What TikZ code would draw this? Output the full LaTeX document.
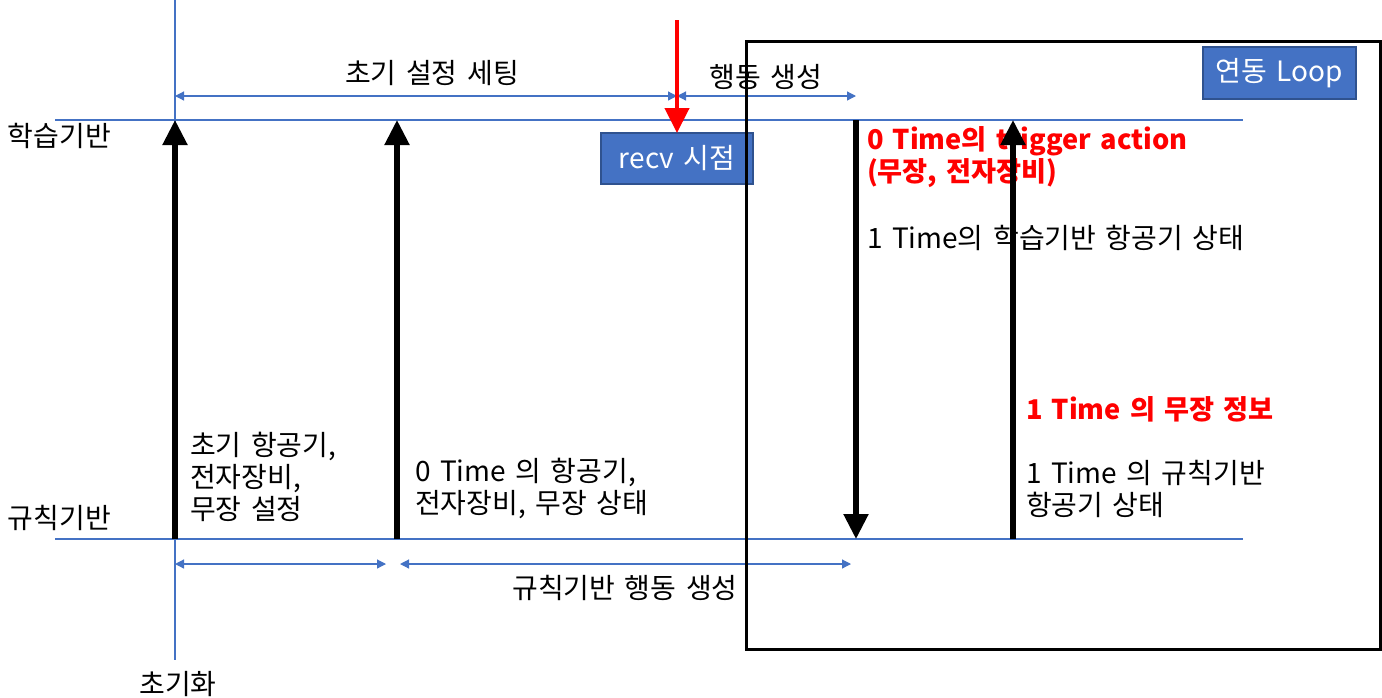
\documentclass[tikz,border=0pt]{standalone}
\usepackage{fontspec}
\setmainfont{Noto Sans CJK KR}
\usetikzlibrary{arrows.meta}
\definecolor{lineblue}{HTML}{4472C4}
\definecolor{boxedge}{HTML}{2F528F}
\definecolor{myred}{HTML}{FF0000}
\newcommand\mainfnt{\fontsize{14}{16}\selectfont\spaceskip 0.34em plus 0.1em\relax}
\newcommand\redfnt{\fontsize{13.6}{16}\selectfont\bfseries\spaceskip 0.34em plus 0.1em\relax}
\begin{document}
\begin{tikzpicture}[x=0.5pt,y=-0.5pt,
  every node/.style={inner sep=0pt,outer sep=0pt,font={\mainfnt}},
  guide/.style={draw=lineblue,line width=0.6pt},
  dimline/.style={draw=lineblue,line width=0.6pt,{Triangle[width=4.5pt,length=4.5pt]}-{Triangle[width=4.5pt,length=4.5pt]}},
  bigarrow/.style={draw=black,line width=2.6pt,-{Triangle[width=12pt,length=12.5pt]}},
  redarrow/.style={draw=myred,line width=2.2pt,-{Triangle[width=12pt,length=12.5pt]}},
  bluebox/.style={fill=lineblue,draw=boxedge,line width=1pt,text=white,align=center},
  lbl/.style={anchor=west,align=left},
  redlbl/.style={anchor=west,align=left,text=myred,font={\redfnt}}
]
\useasboundingbox (0,0) rectangle (1382,697);
% guide lines
\coordinate (Ltop) at (55,120); \coordinate (Rtop) at (1243,120);
\coordinate (Lbot) at (55,539); \coordinate (Rbot) at (1243,539);
\coordinate (initTop) at (175,0); \coordinate (initBot) at (175,660);
\draw[guide] (Ltop) -- (Rtop);
\draw[guide] (Lbot) -- (Rbot);
\draw[guide] (initTop) -- (initBot);
% dimension arrows
\coordinate (d1a) at (175,96); \coordinate (d1b) at (677,96); \coordinate (d1c) at (856,96);
\draw[dimline] (d1a) -- (d1b);
\draw[dimline] (d1b) -- (d1c);
\coordinate (d2a) at (175,564); \coordinate (d2b) at (386,564);
\coordinate (d2c) at (400,564); \coordinate (d2d) at (851,564);
\draw[dimline] (d2a) -- (d2b);
\draw[dimline] (d2c) -- (d2d);
% labels
\node[lbl] (learn) at (8,136) {학습기반};
\node[lbl] (rule) at (8,518) {규칙기반};
\node (init) at (178,684) {초기화};
\node (setup) at (432,73) {초기 설정 세팅};
\node (gen) at (766,77) {행동 생성};
\node (rulegen) at (625,588) {규칙기반 행동 생성};
\node[lbl] (t1) at (190,477) {초기 항공기,\\전자장비,\\무장 설정};
\node[lbl] (t2) at (415,488) {0 Time 의 항공기,\\전자장비, 무장 상태};
\node[redlbl] (t3) at (867,157) {0 Time의 trigger action\\(무장, 전자장비)};
\node[lbl] (t4) at (867,238) {1 Time의 학습기반 항공기 상태};
\node[redlbl] (t5) at (1026,409) {1 Time 의 무장 정보};
\node[lbl] (t6) at (1026,489) {1 Time 의 규칙기반\\항공기 상태};
% boxes
\node[bluebox,minimum width=76pt,minimum height=25.5pt] (recv) at (677,158.5) {recv 시점};
\node[bluebox,minimum width=76.5pt,minimum height=26pt] (loop) at (1279.5,73) {연동 Loop};
% black arrows
\coordinate (a1b) at (175,539); \coordinate (a1t) at (175,120);
\coordinate (a2b) at (397,539); \coordinate (a2t) at (397,120);
\coordinate (a3t) at (856,120); \coordinate (a3b) at (856,539);
\coordinate (a4b) at (1013,539); \coordinate (a4t) at (1013,120);
\draw[bigarrow] (a1b) -- (a1t);
\draw[bigarrow] (a2b) -- (a2t);
\draw[bigarrow] (a3t) -- (a3b);
\draw[bigarrow] (a4b) -- (a4t);
% red arrow
\coordinate (r0) at (677,20);
\draw[redarrow] (r0) -- (recv.north);
% loop frame
\draw[line width=1.5pt] (746,41) rectangle (1380,649);
\end{tikzpicture}
\end{document}
